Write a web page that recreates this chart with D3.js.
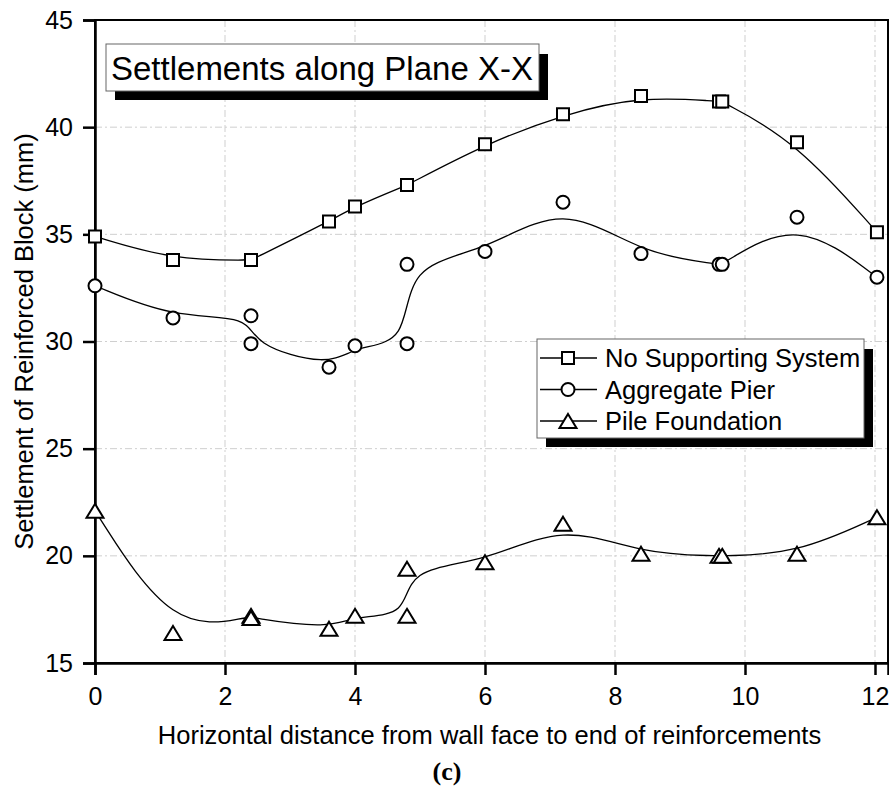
<!DOCTYPE html>
<html>
  <head>
    <meta charset="utf-8">
    <title>Settlements along Plane X-X</title>
    <script src="https://d3js.org/d3.v7.min.js"></script>
    <style>
      body { margin: 0; background: #fff; }
      text { font-family: Arial, "Liberation Sans", sans-serif; }
    </style>
  </head>
  <body>
    <div id="chart"></div>
    <script>
      // distances (m) – duplicates are the repeated readings
      const distance = [0, 1.2, 2.4, 2.4, 3.6, 4.0, 4.8, 4.8, 6.0, 7.2, 8.4, 9.6, 9.65, 10.8, 12.03];
      const noSupport = [34.9, 33.8, 33.8, 33.8, 35.6, 36.3, 37.3, 37.3, 39.2, 40.6, 41.45, 41.2, 41.2, 39.3, 35.1];
      const aggregatePier = [32.6, 31.1, 31.2, 29.9, 28.8, 29.8, 29.9, 33.6, 34.2, 36.5, 34.1, 33.6, 33.6, 35.8, 33.0];
      const pileFoundation = [22.1, 16.4, 17.2, 17.1, 16.6, 17.2, 17.2, 19.4, 19.7, 21.5, 20.1, 20.0, 20.0, 20.1, 21.8];
      const seriesNames = ["No Supporting System", "Aggregate Pier", "Pile Foundation"];
      const xTicks = [0, 2, 4, 6, 8, 10, 12];
      const yTicks = [15, 20, 25, 30, 35, 40, 45];

      const width = 889, height = 787;
      const m = { left: 95, right: 888, top: 20, bottom: 663 };

      const svg = d3.select("#chart")
        .append("svg")
        .attr("width", width)
        .attr("height", height);

      const x = d3.scaleLinear().domain([0, 12.2]).range([m.left, m.right]);
      const y = d3.scaleLinear().domain([15, 45]).range([m.bottom, m.top]);

      // grid
      svg.append("g")
        .selectAll("line")
        .data(xTicks.filter(d => d > 0))
        .join("line")
        .attr("x1", d => x(d)).attr("x2", d => x(d))
        .attr("y1", m.top).attr("y2", m.bottom)
        .attr("stroke", "#cfcfcf")
        .attr("stroke-dasharray", "7,3,2,3");
      svg.append("g")
        .selectAll("line")
        .data(yTicks.filter(d => d > 15 && d < 45))
        .join("line")
        .attr("x1", m.left).attr("x2", m.right)
        .attr("y1", d => y(d)).attr("y2", d => y(d))
        .attr("stroke", "#cfcfcf")
        .attr("stroke-dasharray", "7,3,2,3");

      // frame
      svg.append("rect")
        .attr("x", m.left).attr("y", m.top)
        .attr("width", m.right - m.left).attr("height", m.bottom - m.top)
        .attr("fill", "none")
        .attr("stroke", "#000")
        .attr("stroke-width", 2);

      // axes
      const xAxis = svg.append("g")
        .attr("transform", `translate(0,${m.bottom})`)
        .call(d3.axisBottom(x).tickValues(xTicks).tickSize(12).tickPadding(12));
      const yAxis = svg.append("g")
        .attr("transform", `translate(${m.left},0)`)
        .call(d3.axisLeft(y).tickValues(yTicks).tickSize(12).tickPadding(10));
      [xAxis, yAxis].forEach(g => {
        g.select(".domain").attr("stroke-width", 2.5);
        g.selectAll(".tick line").attr("stroke-width", 2.5);
        g.selectAll(".tick text")
          .attr("font-size", 25)
          .attr("fill", "#000")
          .attr("font-family", "Arial, 'Liberation Sans', sans-serif");
      });

      // axis titles
      svg.append("text")
        .attr("x", (m.left + m.right) / 2 - 2)
        .attr("y", 744)
        .attr("text-anchor", "middle")
        .attr("font-size", 25.5)
        .text("Horizontal distance from wall face to end of reinforcements");
      svg.append("text")
        .attr("transform", `translate(33,${(m.top + m.bottom) / 2}) rotate(-90)`)
        .attr("text-anchor", "middle")
        .attr("font-size", 25.5)
        .text("Settlement of Reinforced Block (mm)");
      svg.append("text")
        .attr("x", 447)
        .attr("y", 780)
        .attr("text-anchor", "middle")
        .attr("font-size", 26)
        .attr("font-weight", "bold")
        .style("font-family", "'Times New Roman', 'Liberation Serif', serif")
        .text("(c)");

      // markers
      const square = "M-6,-6h12v12h-12z";
      const circle = "M-6.5,0a6.5,6.5 0 1,0 13,0a6.5,6.5 0 1,0 -13,0z";
      const triangle = "M0,-7L8.5,7L-8.5,7z";
      const markers = [square, circle, triangle];
      const allSeries = [noSupport, aggregatePier, pileFoundation];

      const line = d3.line()
        .x(d => x(d[0]))
        .y(d => y(d[1]))
        .curve(d3.curveBasis);

      allSeries.forEach((vals, i) => {
        const pts = distance.map((d, j) => [d, vals[j]]);
        svg.append("path")
          .datum(pts)
          .attr("d", line)
          .attr("fill", "none")
          .attr("stroke", "#000")
          .attr("stroke-width", 1.3);
        svg.append("g")
          .selectAll("path")
          .data(pts)
          .join("path")
          .attr("transform", d => `translate(${x(d[0])},${y(d[1])})`)
          .attr("d", markers[i])
          .attr("fill", "#fff")
          .attr("stroke", "#000")
          .attr("stroke-width", 2);
      });

      // title box with shadow
      svg.append("rect")
        .attr("x", 115).attr("y", 54).attr("width", 433).attr("height", 46)
        .attr("fill", "#000");
      svg.append("rect")
        .attr("x", 106).attr("y", 44).attr("width", 433).attr("height", 47)
        .attr("fill", "#fff")
        .attr("stroke", "#666")
        .attr("stroke-width", 1);
      svg.append("text")
        .attr("x", 111).attr("y", 80)
        .attr("font-size", 33)
        .text("Settlements along Plane X-X");

      // legend with shadow
      svg.append("rect")
        .attr("x", 546).attr("y", 349).attr("width", 327).attr("height", 98)
        .attr("fill", "#000");
      svg.append("rect")
        .attr("x", 537).attr("y", 339).attr("width", 327).attr("height", 99)
        .attr("fill", "#fff")
        .attr("stroke", "#666")
        .attr("stroke-width", 1);
      const legend = svg.append("g")
        .selectAll("g")
        .data(seriesNames)
        .join("g")
        .attr("transform", (d, i) => `translate(0,${358 + i * 31.5})`);
      legend.append("line")
        .attr("x1", 540).attr("x2", 597)
        .attr("stroke", "#000").attr("stroke-width", 1.3);
      legend.append("path")
        .attr("transform", "translate(568,0)")
        .attr("d", (d, i) => markers[i])
        .attr("fill", "#fff")
        .attr("stroke", "#000")
        .attr("stroke-width", 2);
      legend.append("text")
        .attr("x", 605)
        .attr("dy", "0.36em")
        .attr("font-size", 25.5)
        .text(d => d);
    </script>
  </body>
</html>
